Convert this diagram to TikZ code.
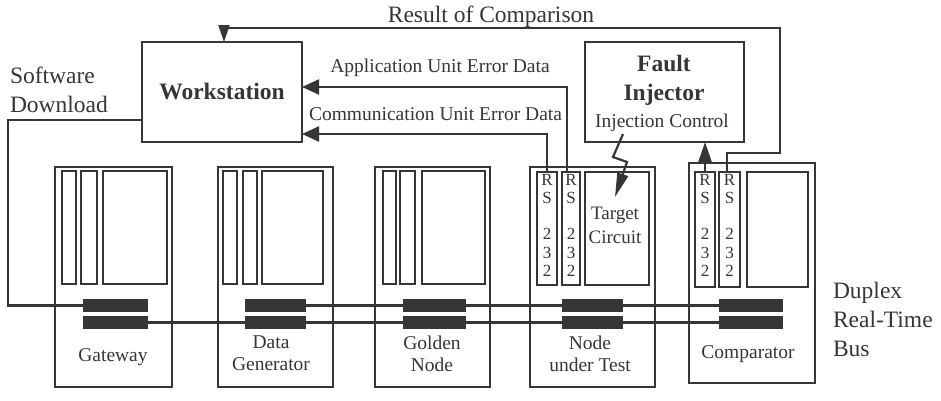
\documentclass[tikz,border=0pt]{standalone}
\usepackage{fontspec}
\setmainfont{Liberation Serif}
\usetikzlibrary{arrows.meta}
\definecolor{ink}{HTML}{363636}
\newcommand\fbig{\fontsize{23.5}{29}\selectfont}
\newcommand\fsmall{\fontsize{19.5}{22}\selectfont}
\newcommand\frs{\fontsize{17}{18.7}\selectfont}
\begin{document}
\begin{tikzpicture}[x=1pt,y=-1pt,
  box/.style={draw=ink, line width=2.6pt, inner sep=0pt, outer sep=0pt, anchor=north west},
  slotbox/.style={draw=ink, line width=2.2pt, inner sep=0pt, outer sep=0pt, anchor=north west},
  busbar/.style={inner sep=0pt, outer sep=0pt, anchor=north west, minimum width=#1, minimum height=13pt},
  wire/.style={draw=ink, line width=2.2pt},
  arr/.style={wire, -{Triangle[length=17pt,width=15pt]}},
  lbl/.style={text=ink, inner sep=0pt, outer sep=0pt}
]
\useasboundingbox[fill=white] (0,0) rectangle (941,400);

% Workstation and fault injector
\node[box, minimum width=160pt, minimum height=100pt, font=\fbig\bfseries, text=ink] (ws) at (142,42) {Workstation};
\node[box, minimum width=159pt, minimum height=100pt] (fi) at (585,42) {};

% Gateway
\node[box, minimum width=117pt, minimum height=220pt] (gw) at (55,167) {};
\node[slotbox, minimum width=14pt, minimum height=113pt] (gws1) at (62,171) {};
\node[slotbox, minimum width=16pt, minimum height=113pt] (gws2) at (81,171) {};
\node[slotbox, minimum width=64pt, minimum height=113pt] (gws3) at (103,171) {};
% Data Generator
\node[box, minimum width=115pt, minimum height=220pt] (dg) at (218,167) {};
\node[slotbox, minimum width=14pt, minimum height=113pt] (dgs1) at (223,171) {};
\node[slotbox, minimum width=14pt, minimum height=113pt] (dgs2) at (243,171) {};
\node[slotbox, minimum width=61pt, minimum height=113pt] (dgs3) at (262,171) {};
% Golden Node
\node[box, minimum width=115pt, minimum height=220pt] (gn) at (375,167) {};
\node[slotbox, minimum width=13pt, minimum height=113pt] (gns1) at (383,171) {};
\node[slotbox, minimum width=15pt, minimum height=113pt] (gns2) at (400,171) {};
\node[slotbox, minimum width=63pt, minimum height=113pt] (gns3) at (422,171) {};
% Node under Test
\node[box, minimum width=125pt, minimum height=220pt] (nut) at (530,167) {};
\node[slotbox, minimum width=20pt, minimum height=113pt] (nuts1) at (537,172) {};
\node[slotbox, minimum width=18pt, minimum height=113pt] (nuts2) at (562,172) {};
\node[slotbox, minimum width=64pt, minimum height=113pt] (nuts3) at (585,172) {};
% Comparator
\node[box, minimum width=126pt, minimum height=220pt] (cmp) at (689,163) {};
\node[slotbox, minimum width=20pt, minimum height=115pt] (cmps1) at (695,172) {};
\node[slotbox, minimum width=21pt, minimum height=115pt] (cmps2) at (719,172) {};
\node[slotbox, minimum width=61pt, minimum height=115pt] (cmps3) at (747,172) {};

% bus bars (positions; filled later on top of the bus lines)
\path
  (83,299) node[busbar=65pt] (gwb1) {}
  (83,316) node[busbar=65pt] (gwb2) {}
  (245,299) node[busbar=61pt] (dgb1) {}
  (245,316) node[busbar=61pt] (dgb2) {}
  (403,299) node[busbar=63pt] (gnb1) {}
  (403,316) node[busbar=63pt] (gnb2) {}
  (562,299) node[busbar=61pt] (nutb1) {}
  (562,316) node[busbar=61pt] (nutb2) {}
  (719,299) node[busbar=64pt] (cmpb1) {}
  (719,316) node[busbar=64pt] (cmpb2) {};

% connectors
\draw[arr] ([xshift=5pt]nuts2.north west) |- ([yshift=5pt]ws.east);
\draw[arr] (nuts1.north) |- ([yshift=-42pt]ws.east);
\coordinate (rc1) at (780,153);
\coordinate (rc2) at (780,28);
\draw[wire, -{Triangle[length=17pt,width=11pt]}] ([xshift=-2.5pt]cmps2.north) |- (rc1) -- (rc2) -| ([xshift=2pt]ws.north);
\draw[wire, -{Triangle[length=20pt,width=13pt]}] (cmps1.north) -- (cmps1.north |- fi.south);
\coordinate (bz1) at (613,157);
\coordinate (bz2) at (627,162);
\coordinate (bzt) at (615,197);
\draw[wire, line join=miter, -{Triangle[length=24pt,width=11pt]}] ([xshift=-41.5pt,yshift=8pt]fi.south) -- (bz1) -- (bz2) -- (bzt);
\coordinate (sd) at (8,305.5);
\draw[wire] ([yshift=-28pt]ws.west) -| (sd) -- (gwb1.west);
\draw[wire] (dgb1.east) -- (cmpb1.west);
\draw[wire] (gwb2.east) -- (cmpb2.west);

% bars on top
\foreach \b in {gwb1,gwb2,dgb1,dgb2,gnb1,gnb2,nutb1,nutb2,cmpb1,cmpb2}
  \fill[ink] (\b.north west) rectangle (\b.south east);

% labels
\node[lbl, font=\fbig, anchor=base] (roc) at (491,22) {Result of Comparison};
\node[lbl, font=\fsmall, anchor=base] (aued) at (440,72) {Application Unit Error Data};
\node[lbl, font=\fsmall, anchor=base] (cued) at (435.5,120) {Communication Unit Error Data};
\node[lbl, font=\fbig, align=left, anchor=north west] (swd) at (10,67) {Software\\Download};
\node[lbl, font=\fbig\bfseries, align=center, anchor=north] (fil) at (664,55) {Fault\\Injector};
\node[lbl, font=\fsmall, anchor=base] (icl) at (662,127) {Injection Control};
\node[lbl, font=\fontsize{19}{24}\selectfont, align=center, anchor=north] (tcl) at (615,207) {Target\\Circuit};
\node[lbl, font=\fbig, align=left, anchor=north west] (bus) at (833,282) {Duplex\\Real-Time\\Bus};
\node[lbl, font=\fsmall, anchor=base] (gwl) at (113,361) {Gateway};
\node[lbl, font=\fsmall, align=center, anchor=north] (dgl) at (271,336) {Data\\Generator};
\node[lbl, font=\fsmall, align=center, anchor=north] (gnl) at (432,336) {Golden\\Node};
\node[lbl, font=\fsmall, align=center, anchor=north] (nutl) at (590,336) {Node\\under Test};
\node[lbl, font=\fsmall, anchor=base] (cmpl) at (748,358) {Comparator};
\foreach \s in {nuts1,nuts2,cmps1,cmps2}
  \node[lbl, font=\frs, align=center, anchor=north] at ([yshift=-2pt]\s.north) {R\\S\\[17pt]2\\3\\2};
\end{tikzpicture}
\end{document}
